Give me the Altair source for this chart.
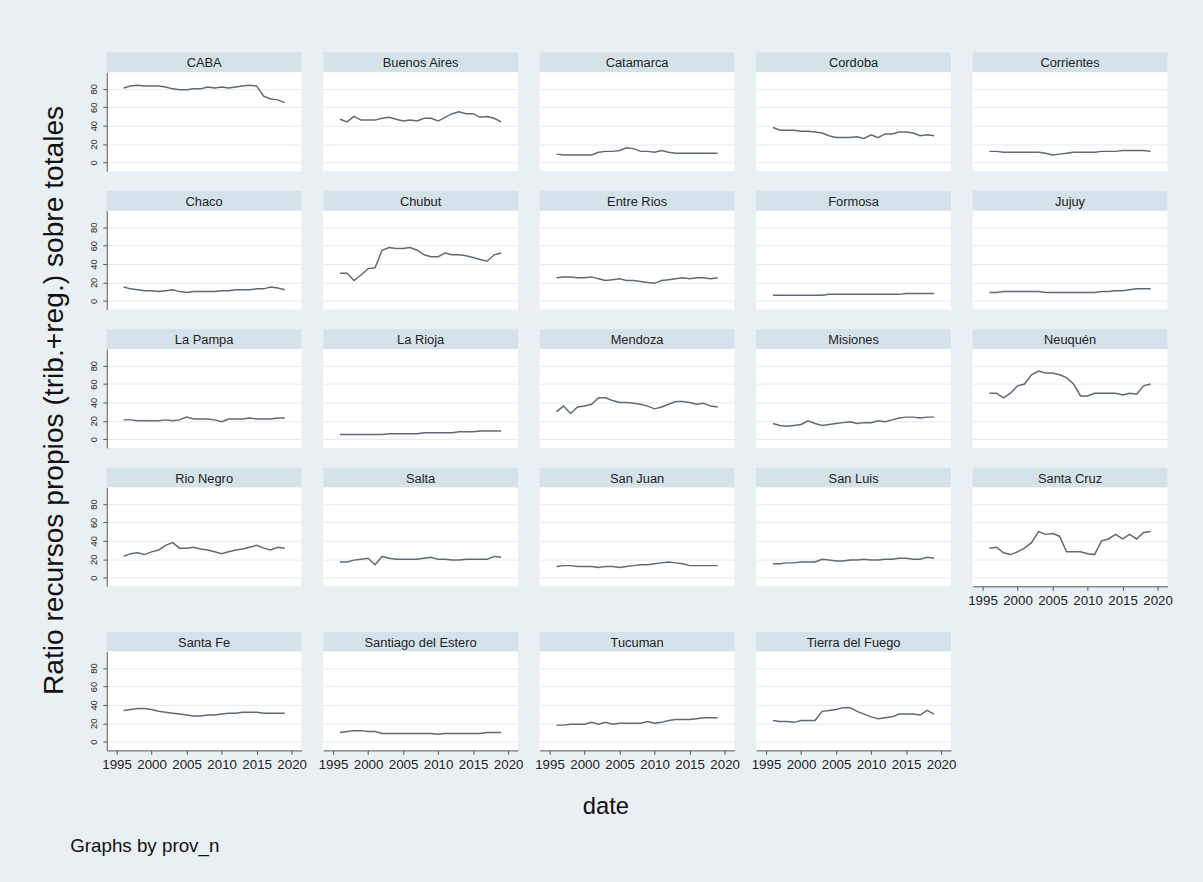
import altair as alt
import pandas as pd

# ---- data: own-resource ratio by province, 1996-2019 ----
years = list(range(1996, 2020))

caba = [81, 83, 84, 83, 83, 83, 82, 80, 79, 79, 80, 80, 82, 81, 82, 81, 82, 83, 84, 83, 72, 69, 68, 65]
buenos_aires = [47, 44, 50, 46, 46, 46, 48, 49, 47, 45, 46, 45, 48, 48, 45, 49, 53, 55, 53, 53, 49, 50, 48, 44]
catamarca = [9, 8, 8, 8, 8, 8, 11, 12, 12, 13, 16, 15, 12, 12, 11, 13, 11, 10, 10, 10, 10, 10, 10, 10]
cordoba = [38, 35, 35, 35, 34, 34, 33, 32, 29, 27, 27, 27, 28, 26, 30, 27, 31, 31, 33, 33, 32, 29, 30, 29]
corrientes = [12, 12, 11, 11, 11, 11, 11, 11, 10, 8, 9, 10, 11, 11, 11, 11, 12, 12, 12, 13, 13, 13, 13, 12]

chaco = [15, 13, 12, 11, 11, 10, 11, 12, 10, 9, 10, 10, 10, 10, 11, 11, 12, 12, 12, 13, 13, 15, 14, 12]
chubut = [30, 30, 22, 28, 35, 36, 55, 58, 57, 57, 58, 55, 50, 48, 48, 52, 50, 50, 49, 47, 45, 43, 50, 52]
entre_rios = [25, 26, 26, 25, 25, 26, 24, 22, 23, 24, 22, 22, 21, 20, 19, 22, 23, 24, 25, 24, 25, 25, 24, 25]
formosa = [6, 6, 6, 6, 6, 6, 6, 6, 7, 7, 7, 7, 7, 7, 7, 7, 7, 7, 7, 8, 8, 8, 8, 8]
jujuy = [9, 9, 10, 10, 10, 10, 10, 10, 9, 9, 9, 9, 9, 9, 9, 9, 10, 10, 11, 11, 12, 13, 13, 13]

la_pampa = [21, 21, 20, 20, 20, 20, 21, 20, 21, 24, 22, 22, 22, 21, 19, 22, 22, 22, 23, 22, 22, 22, 23, 23]
la_rioja = [5, 5, 5, 5, 5, 5, 5, 6, 6, 6, 6, 6, 7, 7, 7, 7, 7, 8, 8, 8, 9, 9, 9, 9]
mendoza = [30, 36, 28, 35, 36, 38, 45, 45, 42, 40, 40, 39, 38, 36, 33, 35, 38, 41, 41, 40, 38, 39, 36, 35]
misiones = [17, 15, 14, 15, 16, 20, 17, 15, 16, 17, 18, 19, 17, 18, 18, 20, 19, 21, 23, 24, 24, 23, 24, 24]
neuquen = [50, 50, 45, 50, 58, 60, 70, 74, 72, 72, 70, 67, 60, 47, 47, 50, 50, 50, 50, 48, 50, 49, 58, 60]

rio_negro = [23, 26, 27, 25, 28, 30, 35, 38, 32, 32, 33, 31, 30, 28, 26, 28, 30, 31, 33, 35, 32, 30, 33, 32]
salta = [17, 17, 19, 20, 21, 14, 23, 21, 20, 20, 20, 20, 21, 22, 20, 20, 19, 19, 20, 20, 20, 20, 23, 22]
san_juan = [12, 13, 13, 12, 12, 12, 11, 12, 12, 11, 12, 13, 14, 14, 15, 16, 17, 16, 15, 13, 13, 13, 13, 13]
san_luis = [15, 15, 16, 16, 17, 17, 17, 20, 19, 18, 18, 19, 19, 20, 19, 19, 20, 20, 21, 21, 20, 20, 22, 21]
santa_cruz = [32, 33, 27, 25, 28, 32, 38, 50, 47, 48, 45, 28, 28, 28, 26, 25, 40, 42, 47, 42, 47, 42, 49, 50]

santa_fe = [34, 35, 36, 36, 35, 33, 32, 31, 30, 29, 28, 28, 29, 29, 30, 31, 31, 32, 32, 32, 31, 31, 31, 31]
santiago_del_estero = [10, 11, 12, 12, 11, 11, 9, 9, 9, 9, 9, 9, 9, 9, 8, 9, 9, 9, 9, 9, 9, 10, 10, 10]
tucuman = [18, 18, 19, 19, 19, 21, 19, 21, 19, 20, 20, 20, 20, 22, 20, 21, 23, 24, 24, 24, 25, 26, 26, 26]
tierra_del_fuego = [23, 22, 22, 21, 23, 23, 23, 33, 34, 35, 37, 37, 33, 30, 27, 25, 26, 27, 30, 30, 30, 29, 34, 30]

provinces = [
    "CABA", "Buenos Aires", "Catamarca", "Cordoba", "Corrientes",
    "Chaco", "Chubut", "Entre Rios", "Formosa", "Jujuy",
    "La Pampa", "La Rioja", "Mendoza", "Misiones", "Neuquén",
    "Rio Negro", "Salta", "San Juan", "San Luis", "Santa Cruz",
    "Santa Fe", "Santiago del Estero", "Tucuman", "Tierra del Fuego",
]
series = [
    caba, buenos_aires, catamarca, cordoba, corrientes,
    chaco, chubut, entre_rios, formosa, jujuy,
    la_pampa, la_rioja, mendoza, misiones, neuquen,
    rio_negro, salta, san_juan, san_luis, santa_cruz,
    santa_fe, santiago_del_estero, tucuman, tierra_del_fuego,
]

x_ticks = [1995, 2000, 2005, 2010, 2015, 2020]
y_ticks = [0, 20, 40, 60, 80]

Y_TITLE = "Ratio recursos propios (trib.+reg.) sobre totales"
X_TITLE = "date"
NOTE = "Graphs by prov_n"

# ---- styling ----
FONT = "Liberation Sans"
BG = "#E8F0F3"
STRIP = "#D5E2E9"
GRID = "#E4ECEF"
LINE = "#5E6B76"
AXIS = "#555555"
TEXT = "#222222"

W, H, SH = 197, 100, 20
NCOL = 5
X_DOMAIN = [1993.6, 2021.4]
Y_DOMAIN = [-9.5, 98]


def strip(name):
    d = pd.DataFrame({"prov_n": [name]})
    base = alt.Chart(d)
    box = base.mark_rect(color=STRIP).encode(
        x=alt.value(0), x2=alt.value(W), y=alt.value(0), y2=alt.value(SH)
    )
    label = base.mark_text(font=FONT, fontSize=13, color=TEXT).encode(
        x=alt.value(W / 2), y=alt.value(SH / 2 + 1), text="prov_n:N"
    )
    return alt.layer(box, label).properties(width=W, height=SH)


def plot(vals, left, bottom):
    d = pd.DataFrame({"year": years, "ratio": vals})
    if bottom:
        xaxis = alt.Axis(
            values=x_ticks, format="d", title=None, grid=False,
            labelFontSize=13.5, labelColor=TEXT, labelFont=FONT,
            labelFlush=False, labelOverlap=False, labelPadding=3,
            tickSize=4, tickColor=AXIS, domainColor=AXIS,
        )
    else:
        xaxis = None
    if left:
        yaxis = alt.Axis(
            values=y_ticks, title=None, grid=True, gridColor=GRID, gridWidth=1,
            labelAngle=270, labelAlign="center", labelBaseline="bottom",
            labelFontSize=9.5, labelColor=TEXT, labelFont=FONT, labelPadding=4,
            tickSize=4, tickColor=AXIS, domainColor=AXIS,
        )
    else:
        yaxis = alt.Axis(
            values=y_ticks, title=None, grid=True, gridColor=GRID, gridWidth=1,
            labels=False, ticks=False, domain=False,
        )
    return (
        alt.Chart(d)
        .mark_line(color=LINE, strokeWidth=1.5)
        .encode(
            x=alt.X("year:Q", scale=alt.Scale(domain=X_DOMAIN, nice=False, zero=False), axis=xaxis),
            y=alt.Y("ratio:Q", scale=alt.Scale(domain=Y_DOMAIN, nice=False, zero=False), axis=yaxis),
        )
        .properties(width=W, height=H, view=alt.ViewBackground(fill="white", stroke=None))
    )


def panel(i, bottom):
    return alt.vconcat(strip(provinces[i]), plot(series[i], i % NCOL == 0, bottom), spacing=0)


n = len(provinces)
nrows = (n + NCOL - 1) // NCOL
columns = []
for c in range(NCOL):
    idx = [r * NCOL + c for r in range(nrows) if r * NCOL + c < n]
    full = len(idx) == nrows
    if full:
        upper = alt.vconcat(*[panel(i, False) for i in idx[:-1]], spacing=20)
        columns.append(alt.vconcat(upper, panel(idx[-1], True), spacing=46))
    else:
        columns.append(
            alt.vconcat(*[panel(i, i == idx[-1]) for i in idx], spacing=20)
        )

# x-label overhang on each side is part of each column's bounds
grid = alt.hconcat(*columns, spacing=10)

ytitle = (
    alt.Chart(pd.DataFrame({"t": [Y_TITLE]}))
    .mark_text(angle=270, font=FONT, fontSize=28.5, color="#111111")
    .encode(x=alt.value(14), y=alt.value(352), text="t:N")
    .properties(width=30, height=700)
)

date_label = (
    alt.Chart(pd.DataFrame({"t": [X_TITLE]}))
    .mark_text(font=FONT, fontSize=24, color="#111111")
    .encode(x=alt.value(572), y=alt.value(36), text="t:N")
    .properties(width=1100, height=40)
)

note = (
    alt.Chart(pd.DataFrame({"t": [NOTE]}))
    .mark_text(font=FONT, fontSize=19, color="#111111", align="left")
    .encode(x=alt.value(30), y=alt.value(28), text="t:N")
    .properties(width=1100, height=40)
)

body = alt.hconcat(ytitle, grid, spacing=18)

chart = (
    alt.vconcat(body, date_label, note, spacing=0)
    .properties(padding={"left": 40, "top": 48, "right": 30, "bottom": 20})
    .configure(background=BG, font=FONT)
    .configure_view(stroke=None)
)

chart.save("out.html", embed_options={"renderer": "svg", "actions": False})
